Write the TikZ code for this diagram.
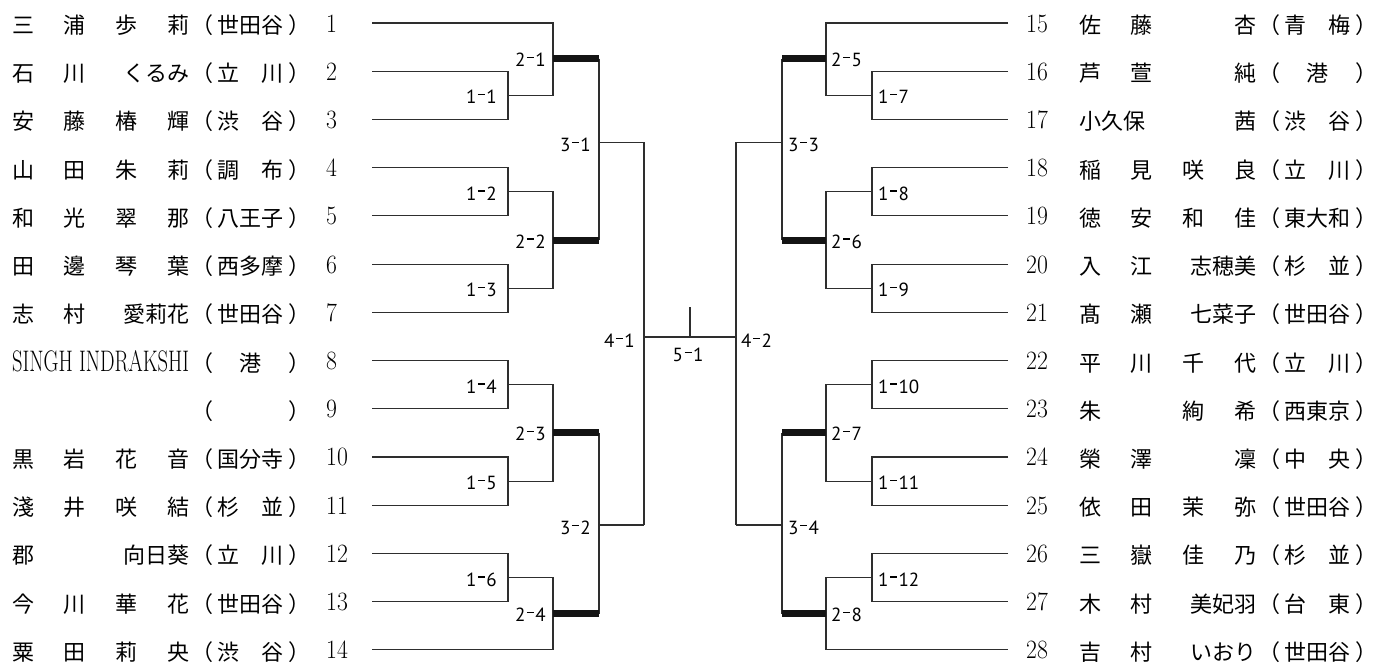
\documentclass[tikz,border=0pt]{standalone}
\usepackage{fontspec}
\usepackage{graphicx}
\newfontfamily\jp{Noto Sans CJK JP}
\newfontfamily\lab{PT Sans}
\newcommand\fa[4]{\makebox[51.67pt][l]{#1}\makebox[51.67pt][l]{#2}\makebox[51.67pt][l]{#3}\makebox[22pt][l]{#4}}
\newcommand\fb[3]{\hbox to 177pt{\makebox[51.67pt][l]{#1}\makebox[51.67pt][l]{#2}\hfill #3}}
\newcommand\fc[2]{\hbox to 177pt{#1\hfill #2}}
\newcommand\pf[1]{\kern2pt（\kern4pt#1\kern5pt）}
\newcommand\md{\kern1.5pt\rule[8.5pt]{7pt}{1.3pt}\kern1.5pt}
\newcommand\ml[2]{#1\md#2}
\tikzset{
  thin/.style={draw=black!82, line width=1.2pt},
  bar/.style={draw=black!92, line width=7pt},
  rowtxt/.style={anchor=base west, inner sep=0pt, font=\jp\fontsize{22pt}{22pt}\selectfont},
  numtxt/.style={anchor=base west, inner sep=0pt, font=\fontsize{23pt}{23pt}\selectfont},
  mlab/.style={inner sep=0pt, font=\lab\fontsize{19pt}{19pt}\selectfont},
}
\newcommand\rowL[2]{%
  \node[rowtxt] (nL#1) at (12,{23+(#1-1)*48.22+10.5}) {#2};
  \node[numtxt] (kL#1) at (326,{23+(#1-1)*48.22+9}) {\scalebox{1.03}[1.15]{#1}};}
\newcommand\rowR[2]{%
  \node[numtxt] (kR#1) at (1026,{23+(#1-15)*48.22+9}) {\scalebox{1.03}[1.15]{#1}};
  \node[rowtxt] (nR#1) at (1079,{23+(#1-15)*48.22+10.5}) {#2};}
\begin{document}
\begin{tikzpicture}[x=1pt,y=-1pt]
\path[fill=white,use as bounding box] (0,0) rectangle (1375,662);
% leaf coordinates
\foreach \i in {1,...,14} \coordinate (Ls\i) at (372,{23+(\i-1)*48.22});
\foreach \i in {15,...,28} \coordinate (Rs\i) at (1008,{23+(\i-15)*48.22});
% junctions left
\coordinate (m11) at (508,95.33);
\coordinate (m12) at (508,191.77);
\coordinate (m13) at (508,288.21);
\coordinate (m14) at (508,384.65);
\coordinate (m15) at (508,481.09);
\coordinate (m16) at (508,577.53);
\coordinate (m21) at (553,58.6);
\coordinate (m22) at (553,240);
\coordinate (m23) at (553,432.8);
\coordinate (m24) at (553,613.7);
\coordinate (m31) at (599,142.3);
\coordinate (m32) at (599,525);
\coordinate (m41) at (644,337);
\coordinate (m51) at (690,337);
\coordinate (t51) at (690,307);
% junctions right
\coordinate (m17) at (872,95.33);
\coordinate (m18) at (872,191.77);
\coordinate (m19) at (872,288.21);
\coordinate (m110) at (872,384.65);
\coordinate (m111) at (872,481.09);
\coordinate (m112) at (872,577.53);
\coordinate (m25) at (826,58.6);
\coordinate (m26) at (826,240);
\coordinate (m27) at (826,432.8);
\coordinate (m28) at (826,613.7);
\coordinate (m33) at (782,142.3);
\coordinate (m34) at (782,525);
\coordinate (m42) at (736,337);
% left bracket
\draw[thin] (Ls2) -| (m11) |- (Ls3);
\draw[thin] (Ls4) -| (m12) |- (Ls5);
\draw[thin] (Ls6) -| (m13) |- (Ls7);
\draw[thin] (Ls8) -| (m14) |- (Ls9);
\draw[thin] (Ls10) -| (m15) |- (Ls11);
\draw[thin] (Ls12) -| (m16) |- (Ls13);
\draw[thin] (Ls1) -| (m21) |- (m11);
\draw[thin] (m12) -| (m22) |- (m13);
\draw[thin] (m14) -| (m23) |- (m15);
\draw[thin] (m16) -| (m24) |- (Ls14);
\draw[thin] (m21 -| m31) -- (m22 -| m31);
\draw[thin] (m23 -| m32) -- (m24 -| m32);
\draw[thin] (m31) -- (m31 -| m41);
\draw[thin] (m32) -- (m32 -| m41);
\draw[thin] (m31 -| m41) -- (m32 -| m41);
\draw[bar] (m21) -- (m21 -| m31);
\draw[bar] (m22) -- (m22 -| m31);
\draw[bar] (m23) -- (m23 -| m32);
\draw[bar] (m24) -- (m24 -| m32);
% centre
\draw[thin] (m41) -- (m42);
\draw[thin] (m51) -- (t51);
% right bracket
\draw[thin] (Rs16) -| (m17) |- (Rs17);
\draw[thin] (Rs18) -| (m18) |- (Rs19);
\draw[thin] (Rs20) -| (m19) |- (Rs21);
\draw[thin] (Rs22) -| (m110) |- (Rs23);
\draw[thin] (Rs24) -| (m111) |- (Rs25);
\draw[thin] (Rs26) -| (m112) |- (Rs27);
\draw[thin] (Rs15) -| (m25) |- (m17);
\draw[thin] (m18) -| (m26) |- (m19);
\draw[thin] (m110) -| (m27) |- (m111);
\draw[thin] (m112) -| (m28) |- (Rs28);
\draw[thin] (m25 -| m33) -- (m26 -| m33);
\draw[thin] (m27 -| m34) -- (m28 -| m34);
\draw[thin] (m33) -- (m33 -| m42);
\draw[thin] (m34) -- (m34 -| m42);
\draw[thin] (m33 -| m42) -- (m34 -| m42);
\draw[bar] (m25) -- (m25 -| m33);
\draw[bar] (m26) -- (m26 -| m33);
\draw[bar] (m27) -- (m27 -| m34);
\draw[bar] (m28) -- (m28 -| m34);
% match labels left
\node[mlab,anchor=base east] (l11) at (497,{95.33+8.5}) {\ml{1}{1}};
\node[mlab,anchor=base east] (l12) at (497,{191.77+8.5}) {\ml{1}{2}};
\node[mlab,anchor=base east] (l13) at (497,{288.21+8.5}) {\ml{1}{3}};
\node[mlab,anchor=base east] (l14) at (497,{384.65+8.5}) {\ml{1}{4}};
\node[mlab,anchor=base east] (l15) at (497,{481.09+8.5}) {\ml{1}{5}};
\node[mlab,anchor=base east] (l16) at (497,{577.53+8.5}) {\ml{1}{6}};
\node[mlab,anchor=base east] (l21) at (546,{58.6+8}) {\ml{2}{1}};
\node[mlab,anchor=base east] (l22) at (546,{240+8}) {\ml{2}{2}};
\node[mlab,anchor=base east] (l23) at (546,{432.8+8}) {\ml{2}{3}};
\node[mlab,anchor=base east] (l24) at (546,{613.7+8}) {\ml{2}{4}};
\node[mlab,anchor=base east] (l31) at (591,{142.3+9.5}) {\ml{3}{1}};
\node[mlab,anchor=base east] (l32) at (591,{525+9.5}) {\ml{3}{2}};
\node[mlab,anchor=base east] (l41) at (635,347.5) {\ml{4}{1}};
\node[mlab,anchor=base] (l51) at (688,361.5) {\ml{5}{1}};
% match labels right
\node[mlab,anchor=base west] (l42) at (741,347.5) {\ml{4}{2}};
\node[mlab,anchor=base west] (l33) at (788,{142.3+9.5}) {\ml{3}{3}};
\node[mlab,anchor=base west] (l34) at (788,{525+9.5}) {\ml{3}{4}};
\node[mlab,anchor=base west] (l25) at (831,{58.6+8}) {\ml{2}{5}};
\node[mlab,anchor=base west] (l26) at (831,{240+8}) {\ml{2}{6}};
\node[mlab,anchor=base west] (l27) at (831,{432.8+8}) {\ml{2}{7}};
\node[mlab,anchor=base west] (l28) at (831,{613.7+8}) {\ml{2}{8}};
\node[mlab,anchor=base west] (l17) at (878,{95.33+8.5}) {\ml{1}{7}};
\node[mlab,anchor=base west] (l18) at (878,{191.77+8.5}) {\ml{1}{8}};
\node[mlab,anchor=base west] (l19) at (878,{288.21+8.5}) {\ml{1}{9}};
\node[mlab,anchor=base west] (l110) at (878,{384.65+8.5}) {\ml{1}{10}};
\node[mlab,anchor=base west] (l111) at (878,{481.09+8.5}) {\ml{1}{11}};
\node[mlab,anchor=base west] (l112) at (878,{577.53+8.5}) {\ml{1}{12}};
% players left
\rowL{1}{\fa{三}{浦}{歩}{莉}\pf{世田谷}}
\rowL{2}{\fb{石}{川}{くるみ}\pf{立　川}}
\rowL{3}{\fa{安}{藤}{椿}{輝}\pf{渋　谷}}
\rowL{4}{\fa{山}{田}{朱}{莉}\pf{調　布}}
\rowL{5}{\fa{和}{光}{翠}{那}\pf{八王子}}
\rowL{6}{\fa{田}{邊}{琴}{葉}\pf{西多摩}}
\rowL{7}{\fb{志}{村}{愛莉花}\pf{世田谷}}
\rowL{8}{\makebox[177pt][l]{\resizebox{177pt}{21pt}{\rmfamily SINGH INDRAKSHI}}\pf{　港　}}
\rowL{9}{\makebox[177pt][l]{}\pf{　　　}}
\rowL{10}{\fa{黒}{岩}{花}{音}\pf{国分寺}}
\rowL{11}{\fa{淺}{井}{咲}{結}\pf{杉　並}}
\rowL{12}{\fc{郡}{向日葵}\pf{立　川}}
\rowL{13}{\fa{今}{川}{華}{花}\pf{世田谷}}
\rowL{14}{\fa{粟}{田}{莉}{央}\pf{渋　谷}}
% players right
\rowR{15}{\fa{佐}{藤}{}{杏}\pf{青　梅}}
\rowR{16}{\fa{芦}{萱}{}{純}\pf{　港　}}
\rowR{17}{\fc{小久保}{茜}\pf{渋　谷}}
\rowR{18}{\fa{稲}{見}{咲}{良}\pf{立　川}}
\rowR{19}{\fa{徳}{安}{和}{佳}\pf{東大和}}
\rowR{20}{\fb{入}{江}{志穂美}\pf{杉　並}}
\rowR{21}{\fb{髙}{瀬}{七菜子}\pf{世田谷}}
\rowR{22}{\fa{平}{川}{千}{代}\pf{立　川}}
\rowR{23}{\fa{朱}{}{絢}{希}\pf{西東京}}
\rowR{24}{\fa{榮}{澤}{}{凜}\pf{中　央}}
\rowR{25}{\fa{依}{田}{茉}{弥}\pf{世田谷}}
\rowR{26}{\fa{三}{嶽}{佳}{乃}\pf{杉　並}}
\rowR{27}{\fb{木}{村}{美妃羽}\pf{台　東}}
\rowR{28}{\fb{吉}{村}{いおり}\pf{世田谷}}
\end{tikzpicture}
\end{document}
